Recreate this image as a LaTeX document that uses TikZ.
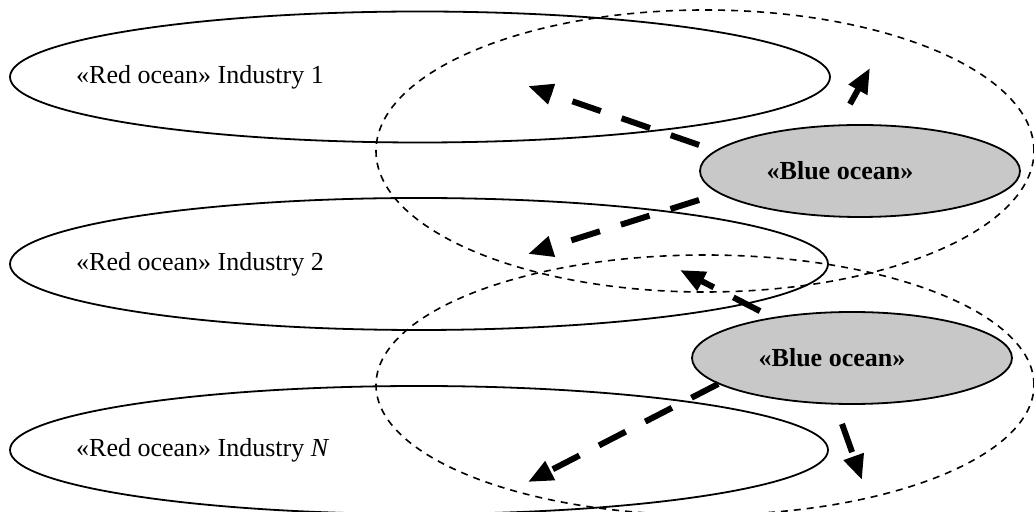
\documentclass[tikz,border=0pt]{standalone}
\usepackage{fontspec}
\setmainfont{Liberation Serif}
\usetikzlibrary{shapes.geometric,arrows.meta}
\definecolor{oceangray}{RGB}{200,200,200}
\begin{document}
\begin{tikzpicture}[x=0.5pt,y=-0.5pt,font=\fontsize{13}{15}\selectfont,
		redocean/.style={draw, ellipse, line width=0.9pt, inner sep=0pt},
		zone/.style={draw, ellipse, line width=0.8pt, dash pattern=on 3.5pt off 3pt, inner sep=0pt, minimum width=329pt},
		blueocean/.style={draw, ellipse, line width=0.9pt, fill=oceangray, inner sep=0pt, minimum width=160pt, minimum height=46pt},
		flow/.style={line width=3pt, dash pattern=on 15pt off 11pt, -{Triangle[length=12.5pt,width=10pt]}}]
		
		\useasboundingbox (0,0) rectangle (1034,512);
		
		\node[zone, minimum height=141pt] (zone1) at (705,151) {};
		\node[zone, minimum height=130pt] (zone2) at (705,385) {};
		
		\node[redocean, minimum width=410pt, minimum height=65.5pt] (red1) at (420,77) {};
		\node[redocean, minimum width=409pt, minimum height=66pt] (red2) at (419,264) {};
		\node[redocean, minimum width=409pt, minimum height=64pt] (redN) at (419,450) {};
		
		\node[anchor=west] (red1text) at ([xshift=30pt]red1.west) {«Red ocean» Industry 1};
		\node[anchor=west] (red2text) at ([xshift=30pt]red2.west) {«Red ocean» Industry 2};
		\node[anchor=west] (redNtext) at ([xshift=30pt]redN.west) {«Red ocean» Industry \textit{N}};
		
		\node[blueocean] (blue1) at (860,171) {};
		\node[blueocean] (blue2) at (852,358) {};
		\node[font=\fontsize{13}{15}\selectfont\bfseries] (blue1text) at ([xshift=-10pt]blue1.center) {«Blue ocean»};
		\node[font=\fontsize{13}{15}\selectfont\bfseries] (blue2text) at ([xshift=-10pt]blue2.center) {«Blue ocean»};
		
		\coordinate (tip1) at (528,86);
		\coordinate (tip2) at (528,254);
		\coordinate (tip3) at (870,68);
		\coordinate (tip4) at (680,270);
		\coordinate (tip5) at (528,482);
		\coordinate (tip6) at (862,480);
		
		\draw[flow] ([yshift=13pt]blue1.west) -- (tip1);
		\draw[flow] ([yshift=-14.5pt]blue1.west) -- (tip2);
		\draw[flow] ([xshift=-5pt,yshift=10pt]blue1.north) -- (tip3);
		\draw[flow] ([xshift=-46pt]blue2.north) -- (tip4);
		\draw[flow] (blue2.191) -- (tip5);
		\draw[flow] ([xshift=-5pt,yshift=-9.5pt]blue2.south) -- (tip6);
		
	\end{tikzpicture}
\end{document}
